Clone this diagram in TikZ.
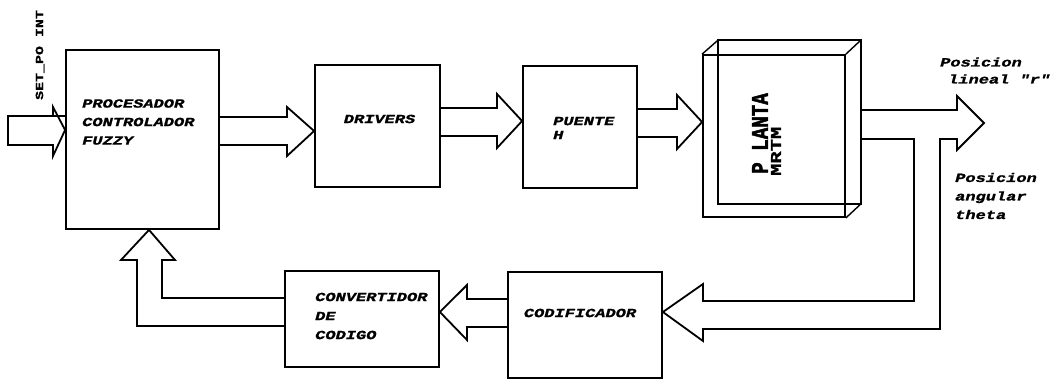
\documentclass[tikz,border=0pt]{standalone}
\usepackage{fontspec}
\usetikzlibrary{calc}
\newfontfamily\blockfont[FakeStretch=1.36,FakeBold=1.2]{Liberation Mono}
\newfontfamily\plantfont[FakeStretch=0.8,FakeBold=1.8]{Liberation Mono}
\begin{document}
\begin{tikzpicture}[x=1pt,y=-1pt,
  box/.style={draw, line width=1.8pt, inner sep=0pt},
  blk/.style={draw, line width=1.8pt, line join=miter},
  edge3d/.style={draw, line width=1.4pt},
  lbl/.style={inner sep=0pt, align=left,
    font=\blockfont\fontsize{12.5}{18.5}\selectfont\bfseries\itshape},
]
\useasboundingbox (0,0) rectangle (1062,381);

% ---- blocks ----
\node[box, minimum width=153pt, minimum height=179pt] (proc) at (142.5,139.5) {};
\node[box, minimum width=125pt, minimum height=122pt] (drv)  at (377.5,126) {};
\node[box, minimum width=114pt, minimum height=122pt] (ph)   at (580,127) {};
\node[box, minimum width=142pt, minimum height=162pt] (planta) at (774,136) {};
\node[box, minimum width=154pt, minimum height=106pt] (cod)  at (585,325) {};
\node[box, minimum width=154pt, minimum height=96pt]  (conv) at (362,319) {};

% back face of the plant cube
\coordinate (bnw) at ($(planta.north west)+(16,-14)$);
\coordinate (bne) at ($(planta.north east)+(15,-14)$);
\coordinate (bse) at ($(planta.south east)+(15,-14)$);
\draw[edge3d] (bnw) rectangle (bse);
\draw[edge3d] (planta.north west) -- (bnw);
\draw[edge3d] (planta.north east) -- (bne);
\draw[edge3d] (planta.south east) -- (bse);

% ---- labels ----
\node[lbl, anchor=west] (procT) at (82,122) {PROCESADOR\\CONTROLADOR\\FUZZY};
\node[lbl] (drvT) at (379.5,119) {DRIVERS};
\node[lbl, anchor=west, font=\blockfont\fontsize{12.5}{14}\selectfont\bfseries\itshape] (phT) at (553,128) {PUENTE\\H};
\node[lbl] (codT) at (580,313) {CODIFICADOR};
\node[lbl, anchor=west, font=\blockfont\fontsize{12.5}{19}\selectfont\bfseries\itshape] (convT) at (315,316) {CONVERTIDOR\\DE\\CODIGO};
\node[inner sep=0pt, rotate=90, anchor=west, font=\plantfont\fontsize{24}{24}\selectfont\bfseries] (plT1) at (760,174) {P LANTA};
\node[inner sep=0pt, rotate=90, anchor=west, font=\blockfont\fontsize{15}{15}\selectfont\bfseries] (plT2) at (776,176) {MRTM};
\node[inner sep=0pt, rotate=90, font=\blockfont\fontsize{11}{11}\selectfont\bfseries] (spT) at (40,55) {SET\_PO INT};
\node[lbl, anchor=west, font=\blockfont\fontsize{12.5}{17}\selectfont\bfseries\itshape] (linT) at (940,70.5) {Posicion\\\hspace*{8pt}lineal "r"};
\node[lbl, anchor=west, font=\blockfont\fontsize{12.5}{18.5}\selectfont\bfseries\itshape] (angT) at (955,196) {Posicion\\angular\\theta};

% ---- block arrows ----
\coordinate (spin) at (8,130);
% set point into the controller
\draw[blk] (proc.west |- 0,116) -- (53,116) -- (53,107) -- (proc.west |- 0,130)
  -- (53,156) -- (53,145) -- (spin |- 0,145) -- (spin |- 0,116) -- (53,116);
% controller -> drivers
\draw[blk] (proc.east |- 0,117) -- (287,117) -- (287,107) -- (drv.west |- 0,131)
  -- (287,156) -- (287,145) -- (proc.east |- 0,145);
% drivers -> puente H
\draw[blk] (drv.east |- 0,108) -- (497,108) -- (497,94) -- (ph.west |- 0,121)
  -- (497,148) -- (497,136) -- (drv.east |- 0,136);
% puente H -> plant
\draw[blk] (ph.east |- 0,109) -- (677,109) -- (677,95) -- (planta.west |- 0,122)
  -- (677,149) -- (677,137) -- (ph.east |- 0,137);
% plant outputs: linear position out, angular position back to the encoder
\coordinate (rout) at (984,123);
\draw[blk] (bse |- 0,110) -- (957,110) -- (957,96) -- (rout) -- (957,150)
  -- (957,139) -- (940,139) -- (940,329) -- (703,329) -- (703,341)
  -- (cod.east |- 0,312) -- (703,284) -- (703,301) -- (914,301) -- (914,139)
  -- (bse |- 0,139);
% encoder -> code converter
\draw[blk] (cod.west |- 0,299) -- (467,299) -- (467,285) -- (conv.east |- 0,312)
  -- (467,340) -- (467,327) -- (cod.west |- 0,327);
% code converter -> controller
\draw[blk] (conv.west |- 0,298) -- (162,298) -- (162,260) -- (175,260)
  -- (149,0 |- proc.south) -- (121,260) -- (137,260) -- (137,326)
  -- (conv.west |- 0,326);
\end{tikzpicture}
\end{document}
